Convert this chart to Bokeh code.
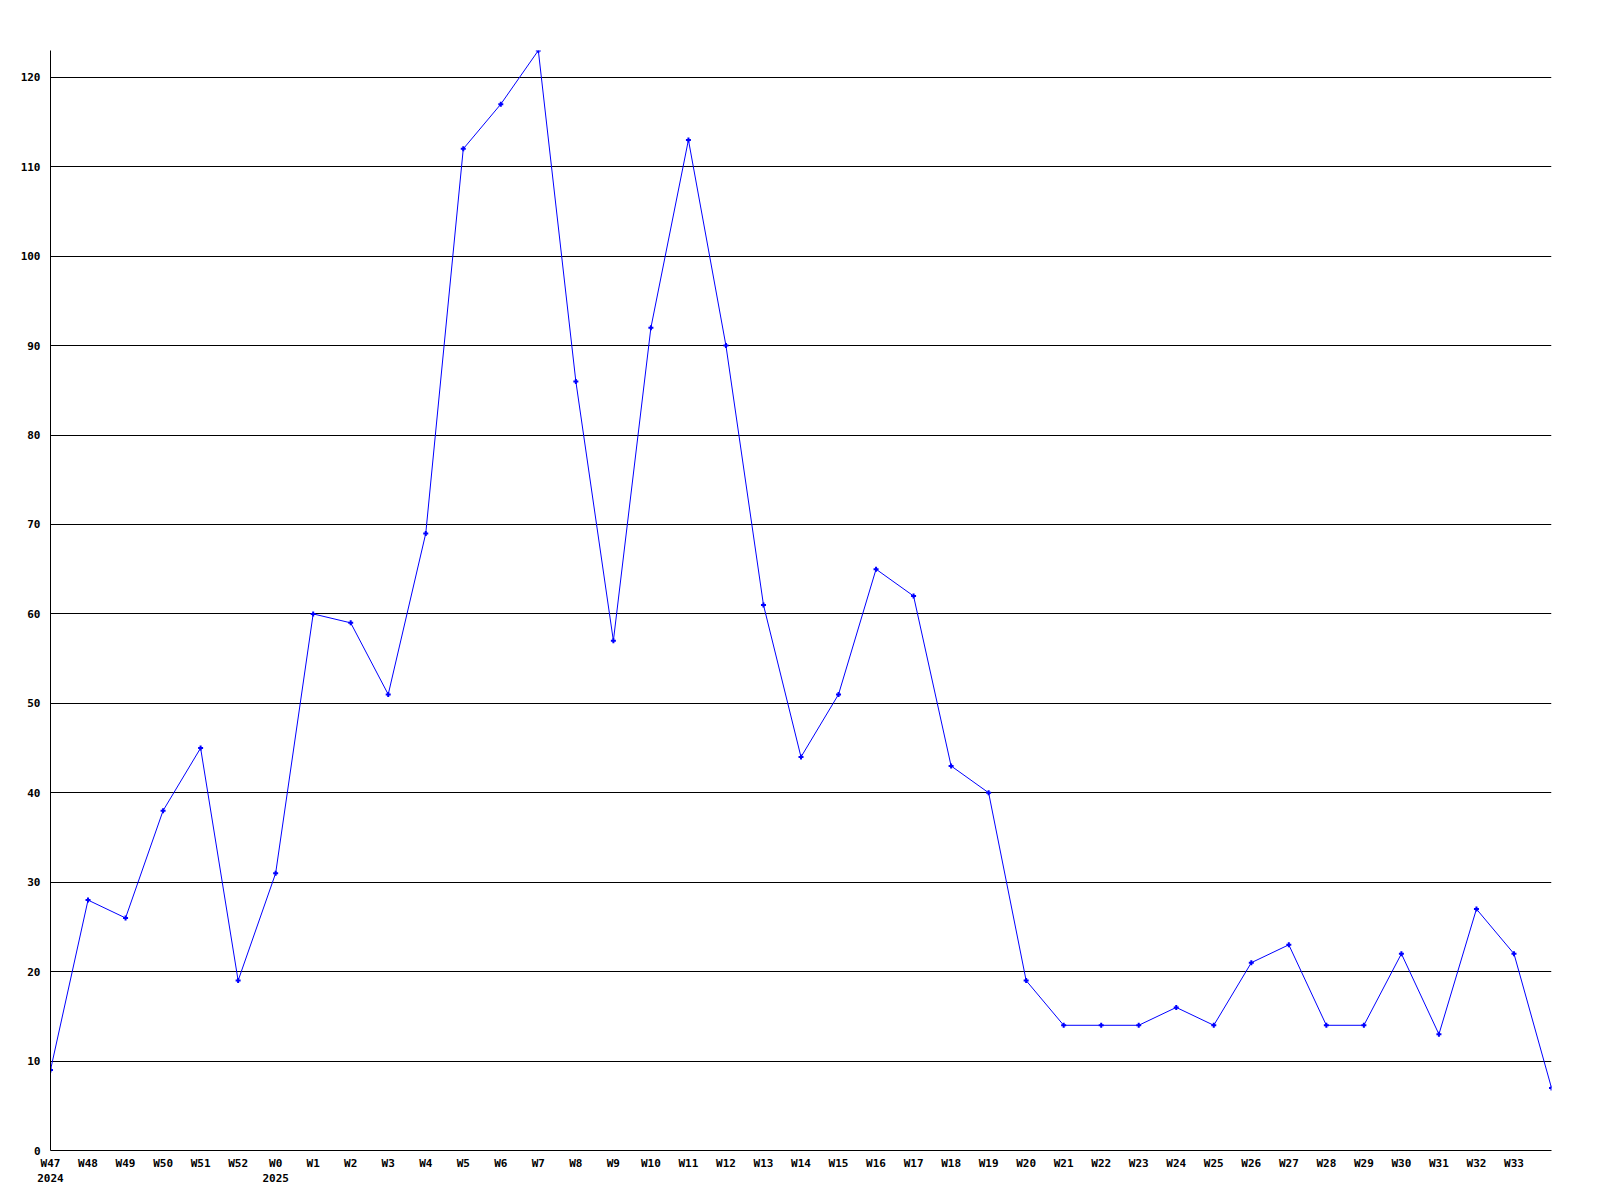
from bokeh.plotting import figure
from bokeh.models import Range1d, FixedTicker
from bokeh.embed import file_html
from bokeh.resources import INLINE

weeks = ["W47\n2024", "W48", "W49", "W50", "W51", "W52", "W0\n2025",
         "W1", "W2", "W3", "W4", "W5", "W6", "W7", "W8", "W9", "W10",
         "W11", "W12", "W13", "W14", "W15", "W16", "W17", "W18", "W19", "W20",
         "W21", "W22", "W23", "W24", "W25", "W26", "W27", "W28", "W29", "W30",
         "W31", "W32", "W33", ""]
values = [9, 28, 26, 38, 45, 19, 31, 60, 59, 51, 69, 112, 117, 123, 86, 57, 92,
          113, 90, 61, 44, 51, 65, 62, 43, 40, 19, 14, 14, 14, 16, 14, 21, 23,
          14, 14, 22, 13, 27, 22, 7]
y_ticks = [0, 10, 20, 30, 40, 50, 60, 70, 80, 90, 100, 110, 120]

xs = list(range(len(values)))

p = figure(width=1592, height=1192, output_backend="svg", toolbar_location=None,
           x_range=Range1d(0, len(values) - 1), y_range=Range1d(0, 123),
           min_border_left=50, min_border_right=41, min_border_top=50,
           min_border_bottom=42)
p.outline_line_color = None
p.background_fill_color = "white"

p.line(xs, values, line_color="#0000ff", line_width=1)
p.scatter(xs, values, marker="cross", size=5, line_color="#0000ff", line_width=2)

font = "DejaVu Sans Mono"
p.xaxis.ticker = FixedTicker(ticks=xs[:-1])
p.xaxis.major_label_overrides = {i: w for i, w in enumerate(weeks)}
p.yaxis.ticker = FixedTicker(ticks=y_ticks)
for ax in (p.xaxis[0], p.yaxis[0]):
    ax.major_tick_line_color = None
    ax.minor_tick_line_color = None
    ax.major_tick_out = 0
    ax.major_tick_in = 0
    ax.minor_tick_out = 0
    ax.axis_line_color = "black"
    ax.axis_line_width = 1
    ax.major_label_text_font = font
    ax.major_label_text_font_style = "bold"
    ax.major_label_text_font_size = "11px"
    ax.major_label_text_color = "black"
p.xaxis.major_label_standoff = 6
p.yaxis.major_label_standoff = 10

p.xgrid.grid_line_color = None
p.ygrid.ticker = FixedTicker(ticks=y_ticks[1:])
p.ygrid.grid_line_color = "black"
p.ygrid.grid_line_width = 1

open("out.html", "w").write(file_html(p, INLINE))
